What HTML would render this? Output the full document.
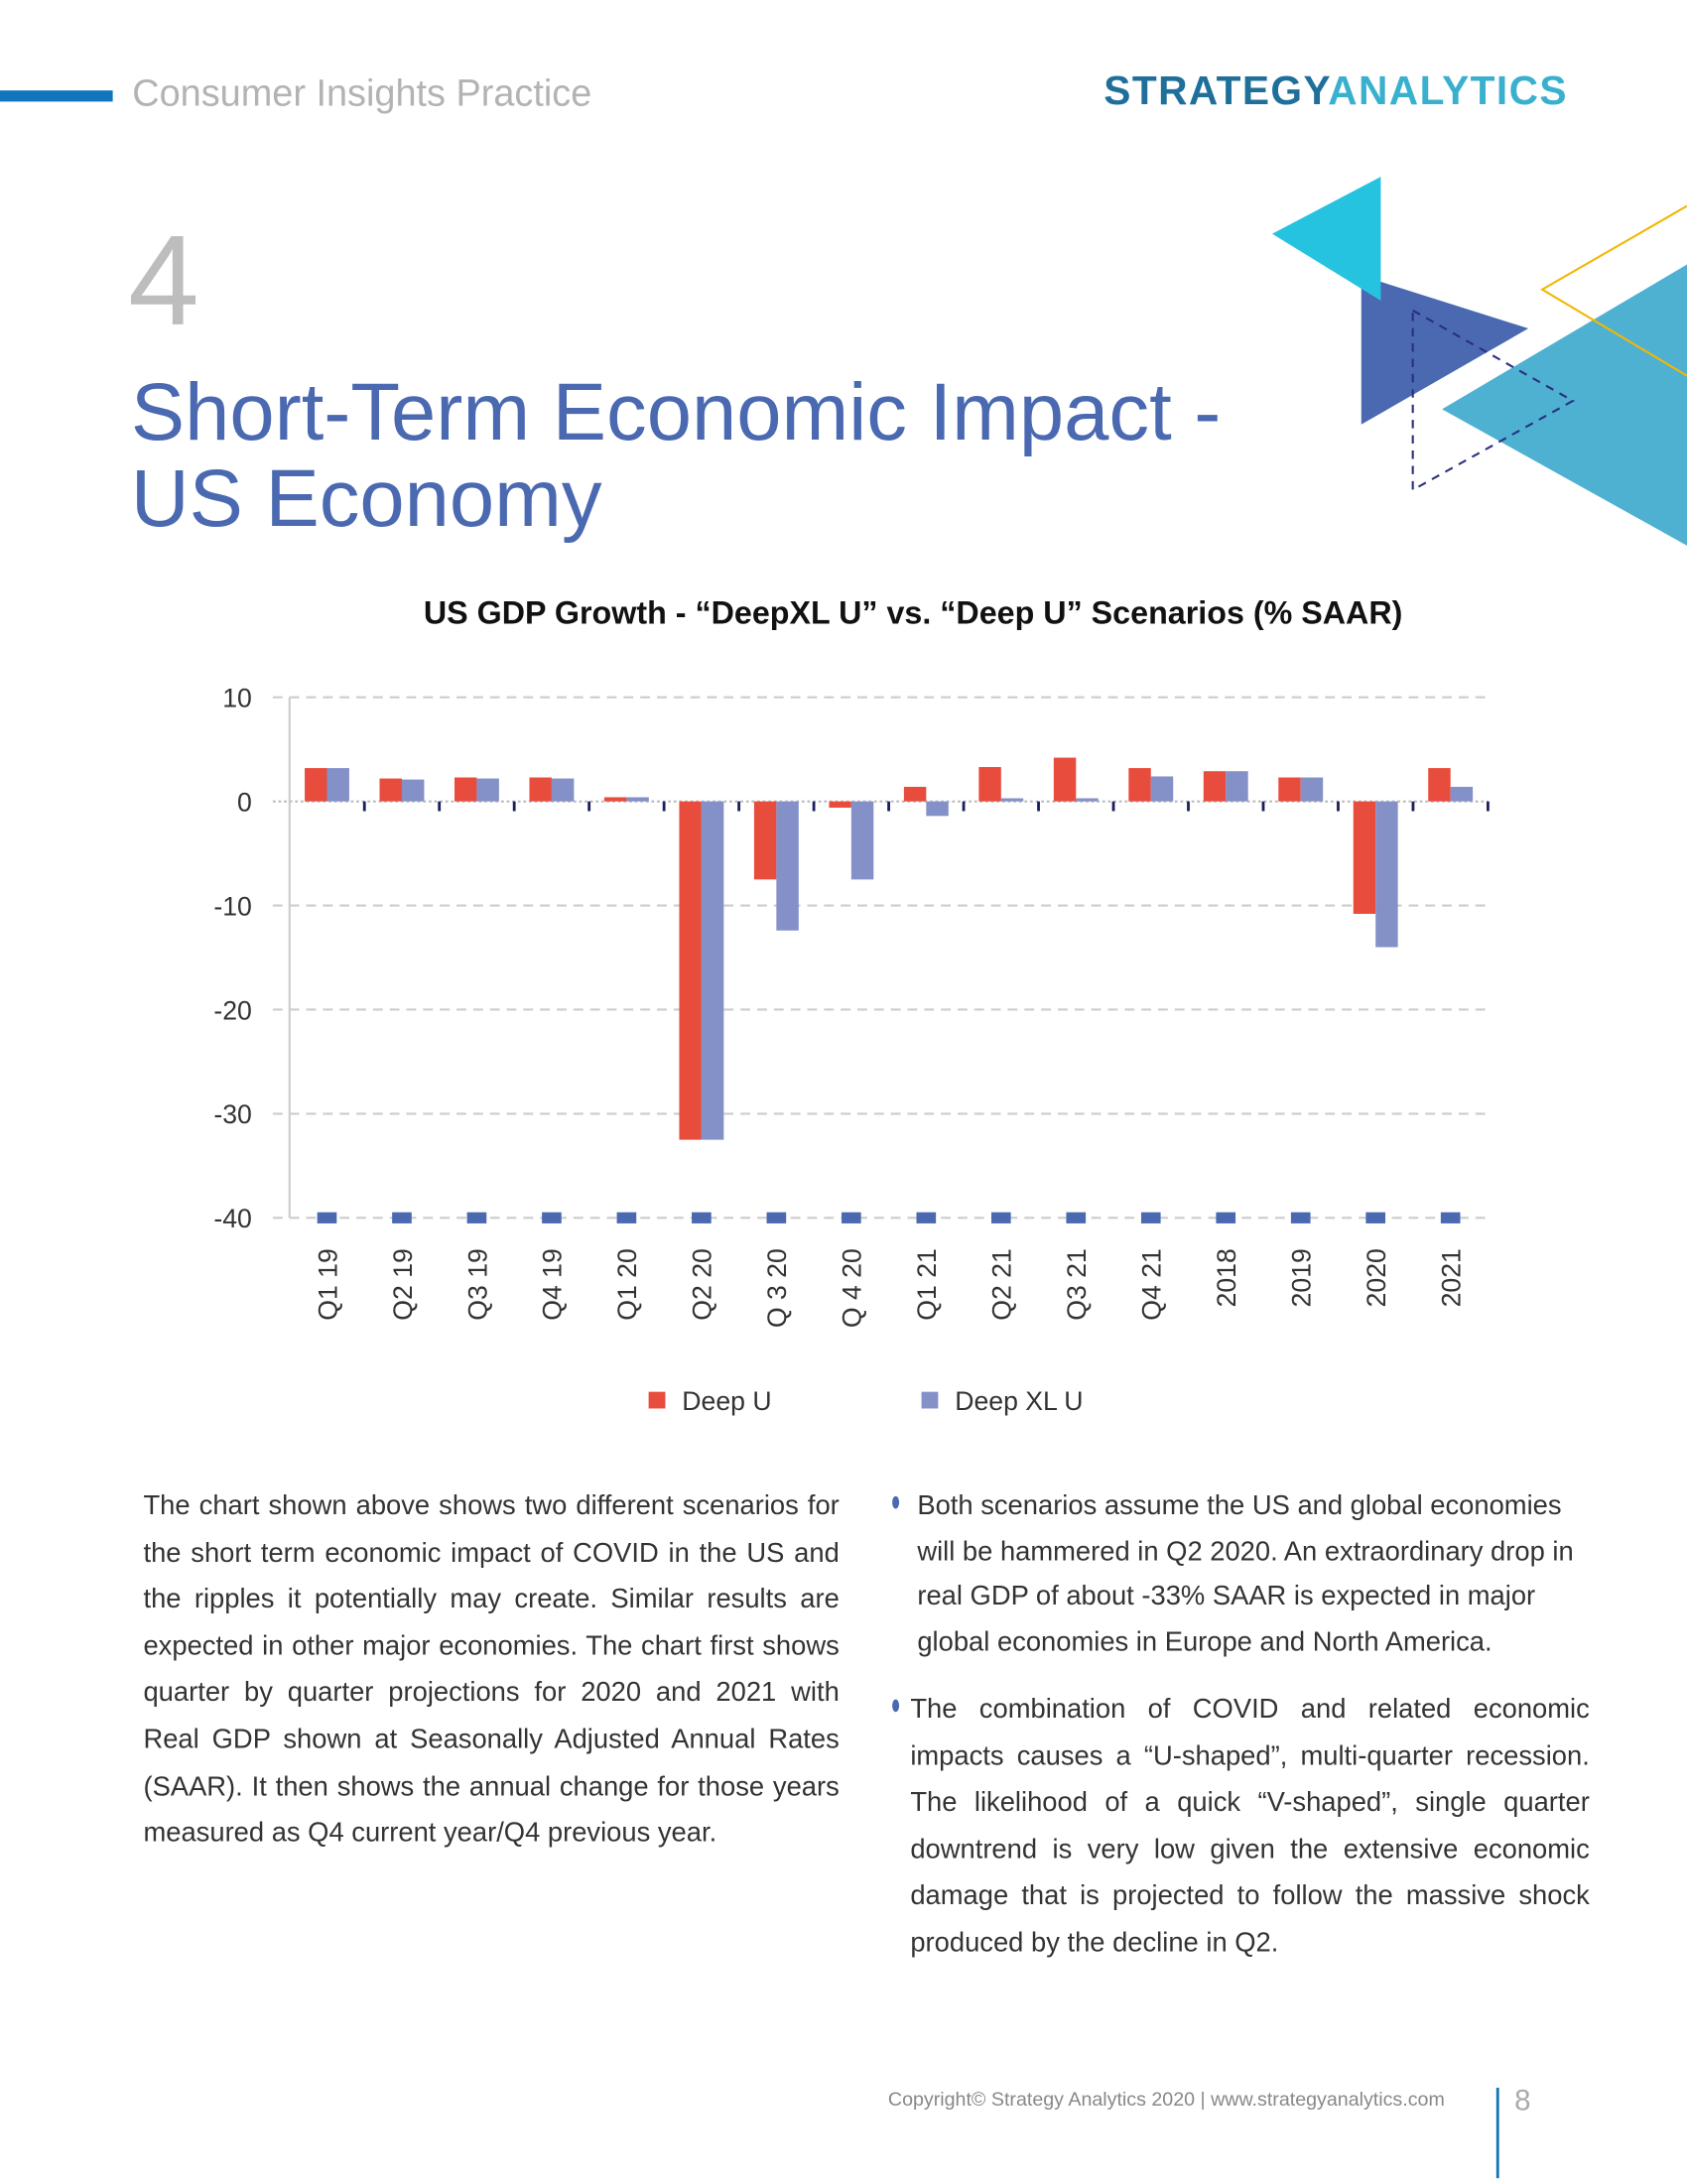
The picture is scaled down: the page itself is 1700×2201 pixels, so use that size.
<!DOCTYPE html>
<html><head><meta charset="utf-8"><style>
html,body{margin:0;padding:0;background:#fff}
#root{width:1212px;height:1569px;position:relative;transform:scale(1.40264);transform-origin:0 0;font-family:"Liberation Sans",sans-serif;overflow:hidden}
.abs{position:absolute}
.p{font-size:19.5px;color:#333;line-height:33.6px;text-align:justify}
</style></head><body>
<div id="root">
<div class="abs" style="left:0;top:65px;width:81px;height:8px;background:#0f75bc"></div>
<div class="abs" style="left:95px;top:52px;font-size:27px;color:#b3b3b3">Consumer Insights Practice</div>
<div class="abs" style="left:793px;top:50px;font-size:29px;font-weight:bold;letter-spacing:1px"><span style="color:#1f6f9a">STRATEGY</span><span style="color:#3ab0cf">ANALYTICS</span></div>
<svg class="abs" style="left:880px;top:110px" width="332" height="300">
<polygon points="98,88 218,126 98,195" fill="#4a69b1"/>
<polygon points="34,58 112,17 112,106" fill="#25c3df"/>
<polygon points="332,80 156,184 332,282" fill="#4eb1d1"/>
<polyline points="332,38 228,98 332,160" fill="none" stroke="#f2b705" stroke-width="1.5"/>
<polygon points="135,113 250,178 135,242" fill="none" stroke="#2a2f80" stroke-width="1.5" stroke-dasharray="6,5"/>
</svg>
<div class="abs" style="left:92px;top:150px;font-size:92px;color:#bdbdbd">4</div>
<div class="abs" style="left:94px;top:266px;font-size:58px;color:#4a69b1;line-height:62px">Short-Term Economic Impact -<br>US Economy</div>
<div class="abs" style="left:0;width:1312px;top:427px;text-align:center;font-size:23px;font-weight:bold;color:#111">US GDP Growth - “DeepXL U” vs. “Deep U” Scenarios (% SAAR)</div>
<svg id="chart" class="abs" style="left:0;top:480px" width="1212" height="560"></svg>
<div class="abs p" style="left:103px;top:1066px;width:500px">The chart shown above shows two different scenarios for the short term economic impact of COVID in the US and the ripples it potentially may create. Similar results are expected in other major economies. The chart first shows quarter by quarter projections for 2020 and 2021 with Real GDP shown at Seasonally Adjusted Annual Rates (SAAR). It then shows the annual change for those years measured as Q4 current year/Q4 previous year.</div>
<div class="abs" style="left:641px;top:1075px;width:5px;height:9px;border-radius:50%;background:#4a69b1"></div>
<div class="abs p" style="left:659px;top:1066px;width:484px;line-height:32.5px;text-align:left">Both scenarios assume the US and global economies will be hammered in Q2 2020. An extraordinary drop in real GDP of about -33% SAAR is expected in major global economies in Europe and North America.</div>
<div class="abs" style="left:641px;top:1221px;width:5px;height:9px;border-radius:50%;background:#4a69b1"></div>
<div class="abs p" style="left:654px;top:1212px;width:488px">The combination of COVID and related economic impacts causes a “U-shaped”, multi-quarter recession. The likelihood of a quick “V-shaped”, single quarter downtrend is very low given the extensive economic damage that is projected to follow the massive shock produced by the decline in Q2.</div>
<div class="abs" style="left:638px;top:1500px;font-size:14px;color:#888">Copyright© Strategy Analytics 2020 | www.strategyanalytics.com</div>
<div class="abs" style="left:1075px;top:1500px;width:2px;height:65px;background:#0f75bc"></div>
<div class="abs" style="left:1088px;top:1498px;font-size:21px;color:#aaa">8</div>
</div>
<script>
const categories=["Q1 19","Q2 19","Q3 19","Q4 19","Q1 20","Q2 20","Q 3 20","Q 4 20","Q1 21","Q2 21","Q3 21","Q4 21","2018","2019","2020","2021"];
const deepU=[3.2,2.2,2.3,2.3,0.4,-32.5,-7.5,-0.6,1.4,3.3,4.2,3.2,2.9,2.3,-10.8,3.2];
const deepXLU=[3.2,2.1,2.2,2.2,0.4,-32.5,-12.4,-7.5,-1.4,0.3,0.3,2.4,2.9,2.3,-14.0,1.4];
const yTicks=[10,0,-10,-20,-30,-40];
const NS="http://www.w3.org/2000/svg";
const svg=document.getElementById('chart');
const X0=208,X1=1069,OY=480;
const y=v=>501-OY+(10-v)*7.48;
const step=(X1-X0)/categories.length;
const cx=i=>X0+step*(i+0.5);
function mk(t,a){const e=document.createElementNS(NS,t);for(const k in a)e.setAttribute(k,a[k]);svg.appendChild(e);return e;}
yTicks.forEach(v=>{
 const l=mk('line',{x1:196,x2:X1,y1:y(v),y2:y(v),stroke:v===0?'#bbb':'#ccc','stroke-width':1.5,'stroke-dasharray':v===0?'2,2':'7,5'});
 
 
 const t=mk('text',{x:181,y:y(v)+7,'text-anchor':'end','font-size':19,fill:'#333','font-family':'Liberation Sans, sans-serif'});
 t.textContent=v;
 
 
});
const ax=mk('line',{x1:X0,x2:X0,y1:y(10),y2:y(-40),stroke:'#ccc','stroke-width':1.5});


for(let i=1;i<=categories.length;i++){
 const tk=mk('line',{x1:X0+step*i,x2:X0+step*i,y1:y(0),y2:y(0)+7,stroke:'#1a1f5e','stroke-width':2});
 
 
}
const bw=16;
categories.forEach((c,i)=>{
 [[deepU[i],'#e84c3d',-bw],[deepXLU[i],'#8490c8',0]].forEach(([v,col,off],k)=>{
  const top=Math.min(y(v),y(0)),h=Math.abs(y(v)-y(0));
  const r=mk('rect',{x:cx(i)+off,y:top,width:bw,height:Math.max(h,0.5),fill:col});
  
  
 });
 const m=mk('rect',{x:cx(i)-7,y:y(-40)-4,width:14,height:8,fill:'#4a69b1'});
 
 
 const tx=cx(i)+7,ty=y(-40)+22;
 const t=mk('text',{x:tx,y:ty,transform:`rotate(-90 ${tx} ${ty})`,'text-anchor':'end','font-size':19,fill:'#333','font-family':'Liberation Sans, sans-serif'});
 t.textContent=c;
 
 
});
[["Deep U",'#e84c3d',466],["Deep XL U",'#8490c8',662]].forEach(([n,col,x])=>{
 const r=mk('rect',{x:x,y:1000-OY,width:12,height:12,fill:col});
 
 
 const t=mk('text',{x:x+24,y:1013-OY,'font-size':19,fill:'#333','font-family':'Liberation Sans, sans-serif'});
 t.textContent=n;
 
 
});
</script>
</body></html>
